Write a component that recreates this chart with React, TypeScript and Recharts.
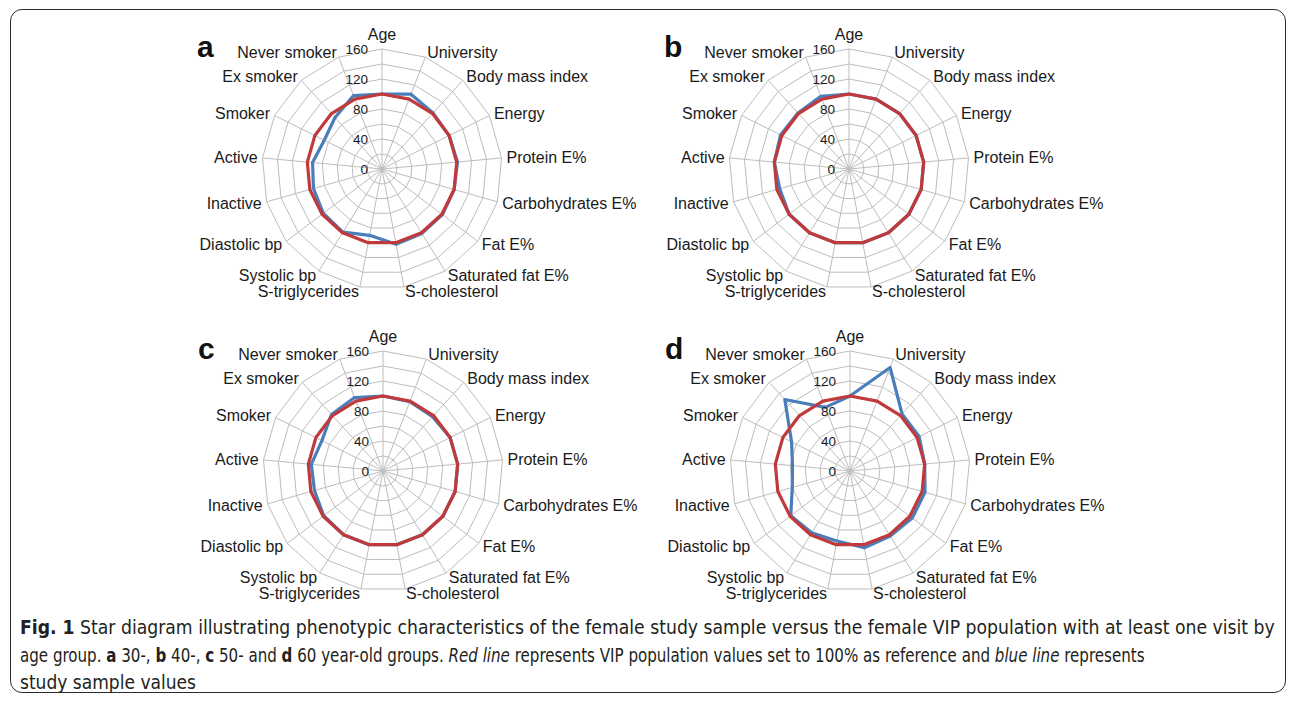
import React, { useLayoutEffect, useRef, useState } from 'react';
import { RadarChart, Radar, PolarGrid, PolarAngleAxis, PolarRadiusAxis } from 'recharts';

const categories = [
  'Age',
  'University',
  'Body mass index',
  'Energy',
  'Protein E%',
  'Carbohydrates E%',
  'Fat E%',
  'Saturated fat E%',
  'S-cholesterol',
  'S-triglycerides',
  'Systolic bp',
  'Diastolic bp',
  'Inactive',
  'Active',
  'Smoker',
  'Ex smoker',
  'Never smoker',
];

// VIP population, set to 100% as reference
const vipReference = [100, 100, 100, 100, 100, 100, 100, 100, 100, 100, 100, 100, 100, 100, 100, 100, 100];

// study sample values per age group
const sample30 = [100, 107, 101, 100, 101, 100, 101, 101, 102, 90, 99, 98, 95, 93, 86, 93, 105];
const sample40 = [100, 100, 100, 100, 100, 100, 100, 100, 100, 100, 100, 100, 96, 100, 102, 101, 104];
const sample50 = [100, 99, 98, 100, 100, 100, 100, 100, 100, 100, 100, 99, 95, 96, 91, 102, 105];
const sample60 = [100, 148, 103, 103, 100, 104, 104, 102, 104, 95, 97, 99, 80, 77, 87, 129, 91];

const radiusDomain = [0, 160];
const labelledTicks = [0, 40, 80, 120, 160];

const RED = '#c0393b';
const BLUE = '#4a7ebb';
const GRID = '#bdbdbd';
const FONT = '"Liberation Sans", Arial, Helvetica, sans-serif';
const CAPTION_FONT = '"Liberation Sans Narrow", "DejaVu Sans Condensed", "Liberation Sans", sans-serif';

const W = 560;
const H = 320;
const CX = 280;
const CY = 160;
const R = 120;

const panels = [
  { letter: 'a', x: 382, y: 169, values: sample30 },
  { letter: 'b', x: 849, y: 169, values: sample40 },
  { letter: 'c', x: 383, y: 471, values: sample50 },
  { letter: 'd', x: 850, y: 471, values: sample60 },
];

function AngleTick(props: any) {
  const { payload } = props;
  const rad = (payload.coordinate * Math.PI) / 180;
  const ux = Math.cos(rad);
  const uy = -Math.sin(rad);
  let anchor = 'middle';
  let off = R + 5;
  if (ux > 0.01) anchor = 'start';
  else if (ux < -0.01) anchor = 'end';
  else off = R + 15;
  return (
    <text
      x={CX + ux * off}
      y={CY + uy * off}
      textAnchor={anchor}
      dominantBaseline="central"
      fontSize={16}
      fontFamily={FONT}
      fill="#1a1a1a"
    >
      {payload.value}
    </text>
  );
}

function RadiusTick(props: any) {
  const { x, y, payload } = props;
  if (!labelledTicks.includes(payload.value)) return <g />;
  return (
    <text x={x - 14} y={y} textAnchor="end" dominantBaseline="central" fontSize={13.5} fontFamily={FONT} fill="#1a1a1a">
      {payload.value}
    </text>
  );
}

function StarPanel({ x, y, values }: { x: number; y: number; values: number[] }) {
  const data = categories.map((name, i) => ({ name, vip: vipReference[i], sample: values[i] }));
  return (
    <div style={{ position: 'absolute', left: x - CX, top: y - CY, width: W, height: H }}>
      <RadarChart width={W} height={H} cx={CX} cy={CY} outerRadius={R} data={data} margin={{ top: 0, right: 0, bottom: 0, left: 0 }}>
        <PolarGrid gridType="polygon" stroke={GRID} strokeWidth={1} />
        <PolarAngleAxis dataKey="name" tick={AngleTick} tickLine={false} axisLine={false} />
        <PolarRadiusAxis angle={90} domain={radiusDomain} tickCount={9} axisLine={false} tickLine={false} tick={RadiusTick} />
        <Radar dataKey="sample" stroke={BLUE} strokeWidth={3.2} fill="none" fillOpacity={0} dot={false} strokeLinejoin="round" isAnimationActive={false} />
        <Radar dataKey="vip" stroke={RED} strokeWidth={3.2} fill="none" fillOpacity={0} dot={false} strokeLinejoin="round" isAnimationActive={false} />
      </RadarChart>
    </div>
  );
}

// caption line squeezed horizontally to a target width
function FitLine({ x, y, width, children }: { x: number; y: number; width?: number; children: React.ReactNode }) {
  const ref = useRef<SVGTextElement>(null);
  const [sx, setSx] = useState(1);
  useLayoutEffect(() => {
    if (!width || !ref.current) return;
    const w = ref.current.getBBox().width;
    if (w > 0) setSx(width / w);
  }, [width]);
  return (
    <text ref={ref} x={0} y={0} transform={`translate(${x},${y}) scale(${sx},1)`}>
      {children}
    </text>
  );
}

export default function App() {
  return (
    <div style={{ position: 'absolute', left: 0, top: 0, width: 1296, height: 701, background: '#fff', overflow: 'hidden' }}>
      <div
        style={{
          position: 'absolute',
          left: 10,
          top: 9,
          width: 1276,
          height: 684,
          border: '1.5px solid #2b2b2b',
          borderRadius: 12,
          boxSizing: 'border-box',
        }}
      />
      {panels.map(p => (
        <StarPanel key={p.letter} x={p.x} y={p.y} values={p.values} />
      ))}
      <svg width={1296} height={701} style={{ position: 'absolute', left: 0, top: 0, pointerEvents: 'none' }}>
        {panels.map(p => (
          <text key={p.letter} x={p.x - 185} y={p.y - 112} fontSize={30} fontWeight="bold" fontFamily={FONT} fill="#111">
            {p.letter}
          </text>
        ))}
        <g fontFamily={CAPTION_FONT} fontSize={19} fill="#231f20">
          <FitLine x={20} y={634} width={1256}>
            <tspan fontWeight="bold">Fig. 1</tspan>
            {' Star diagram illustrating phenotypic characteristics of the female study sample versus the female VIP population with at least one visit by'}
          </FitLine>
          <FitLine x={20} y={662} width={1126}>
            {'age group. '}
            <tspan fontWeight="bold">a</tspan>
            {' 30-, '}
            <tspan fontWeight="bold">b</tspan>
            {' 40-, '}
            <tspan fontWeight="bold">c</tspan>
            {' 50- and '}
            <tspan fontWeight="bold">d</tspan>
            {' 60 year-old groups. '}
            <tspan fontStyle="italic">Red line</tspan>
            {' represents VIP population values set to 100% as reference and '}
            <tspan fontStyle="italic">blue line</tspan>
            {' represents'}
          </FitLine>
          <FitLine x={20} y={689}>
            study sample values
          </FitLine>
        </g>
      </svg>
    </div>
  );
}
